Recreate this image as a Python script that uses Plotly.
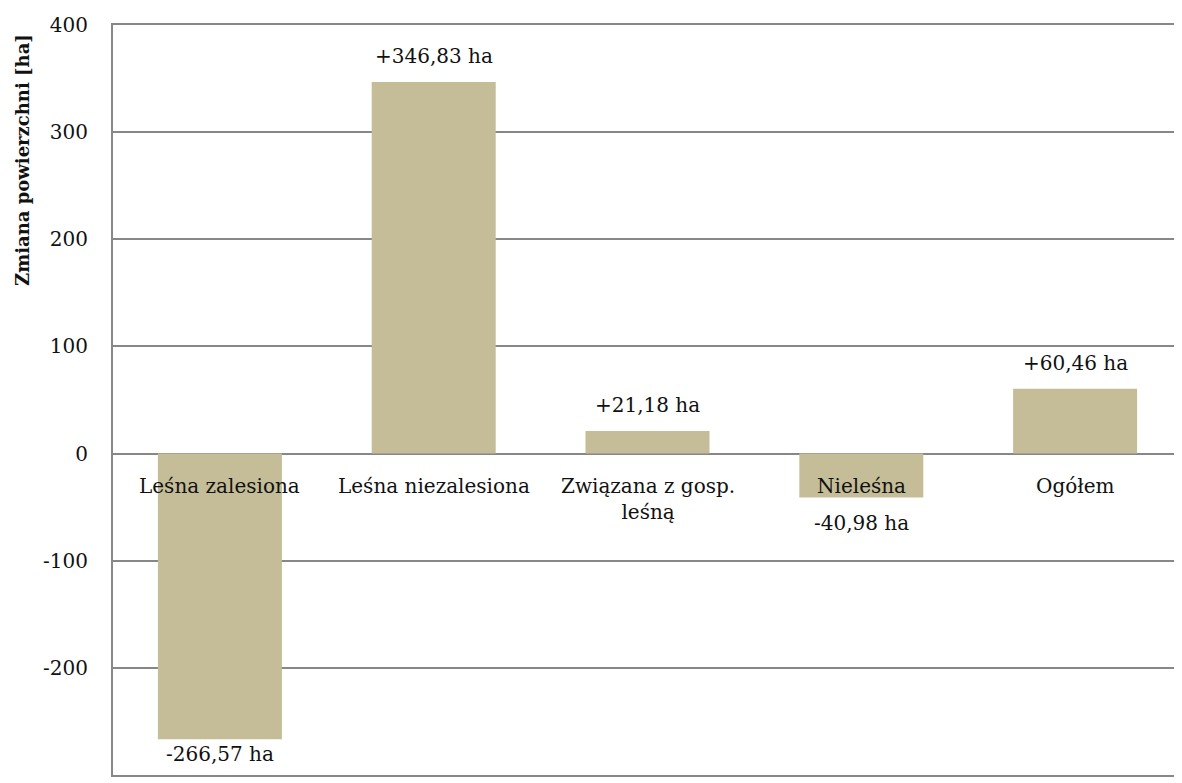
import plotly.graph_objects as go

categories = ["Leśna zalesiona", "Leśna niezalesiona", "Związana z gosp.<br>leśną", "Nieleśna", "Ogółem"]
values = [-266.57, 346.83, 21.18, -40.98, 60.46]
value_labels = ["-266,57 ha", "+346,83 ha", "+21,18 ha", "-40,98 ha", "+60,46 ha"]
y_ticks = [-300, -200, -100, 0, 100, 200, 300, 400]
y_tick_text = ["-300", "-200", "-100", "0", "100", "200", "300", "400"]
y_title = "Zmiana powierzchni [ha]"

FONT = "DejaVu Serif, serif"
FS = 20
BAR = "#C4BD97"
GRID = "#878787"
TXT = "#111111"
Y_MIN, Y_MAX = -300, 400

fig = go.Figure()
fig.add_trace(go.Bar(
    x=list(range(len(categories))), y=values,
    marker=dict(color=BAR, line=dict(width=0)),
    width=0.58, hoverinfo="skip",
))

annotations = []
for i, (cat, v, lab) in enumerate(zip(categories, values, value_labels)):
    annotations.append(dict(
        x=i, y=0, xref="x", yref="y", text=cat, showarrow=False,
        yanchor="top", yshift=-18, font=dict(family=FONT, size=FS, color=TXT),
    ))
    if v >= 0:
        shift = 12
    else:
        # label squeezed closer to bar when near the bottom of the plot
        shift = -1 if (v - Y_MIN) < 50 else -12
    annotations.append(dict(
        x=i, y=v, xref="x", yref="y", text=lab, showarrow=False,
        yanchor="bottom" if v >= 0 else "top", yshift=shift,
        font=dict(family=FONT, size=FS, color=TXT),
    ))

annotations.append(dict(
    x=0, y=274, xref="paper", yref="y", text="<b>" + y_title + "</b>",
    showarrow=False, textangle=-90, xanchor="center", yanchor="middle",
    xshift=-91, font=dict(family=FONT, size=18, color=TXT),
))

fig.update_layout(
    width=1174, height=775,
    margin=dict(l=105, r=0, t=17, b=8),
    paper_bgcolor="white", plot_bgcolor="white",
    showlegend=False,
    annotations=annotations,
    xaxis=dict(range=[-0.5, 4.5], showticklabels=False, showgrid=False, zeroline=False,
               showline=True, mirror=True, linecolor=GRID, linewidth=2, ticks=""),
    yaxis=dict(range=[Y_MIN, Y_MAX], tickvals=y_ticks, ticktext=y_tick_text,
               showgrid=True, gridcolor=GRID, gridwidth=2,
               zeroline=True, zerolinecolor=GRID, zerolinewidth=2,
               showline=True, linecolor=GRID, linewidth=2, ticks="",
               ticklabelstandoff=19,
               tickfont=dict(family=FONT, size=FS, color=TXT)),
)

fig.write_html("out.html")
